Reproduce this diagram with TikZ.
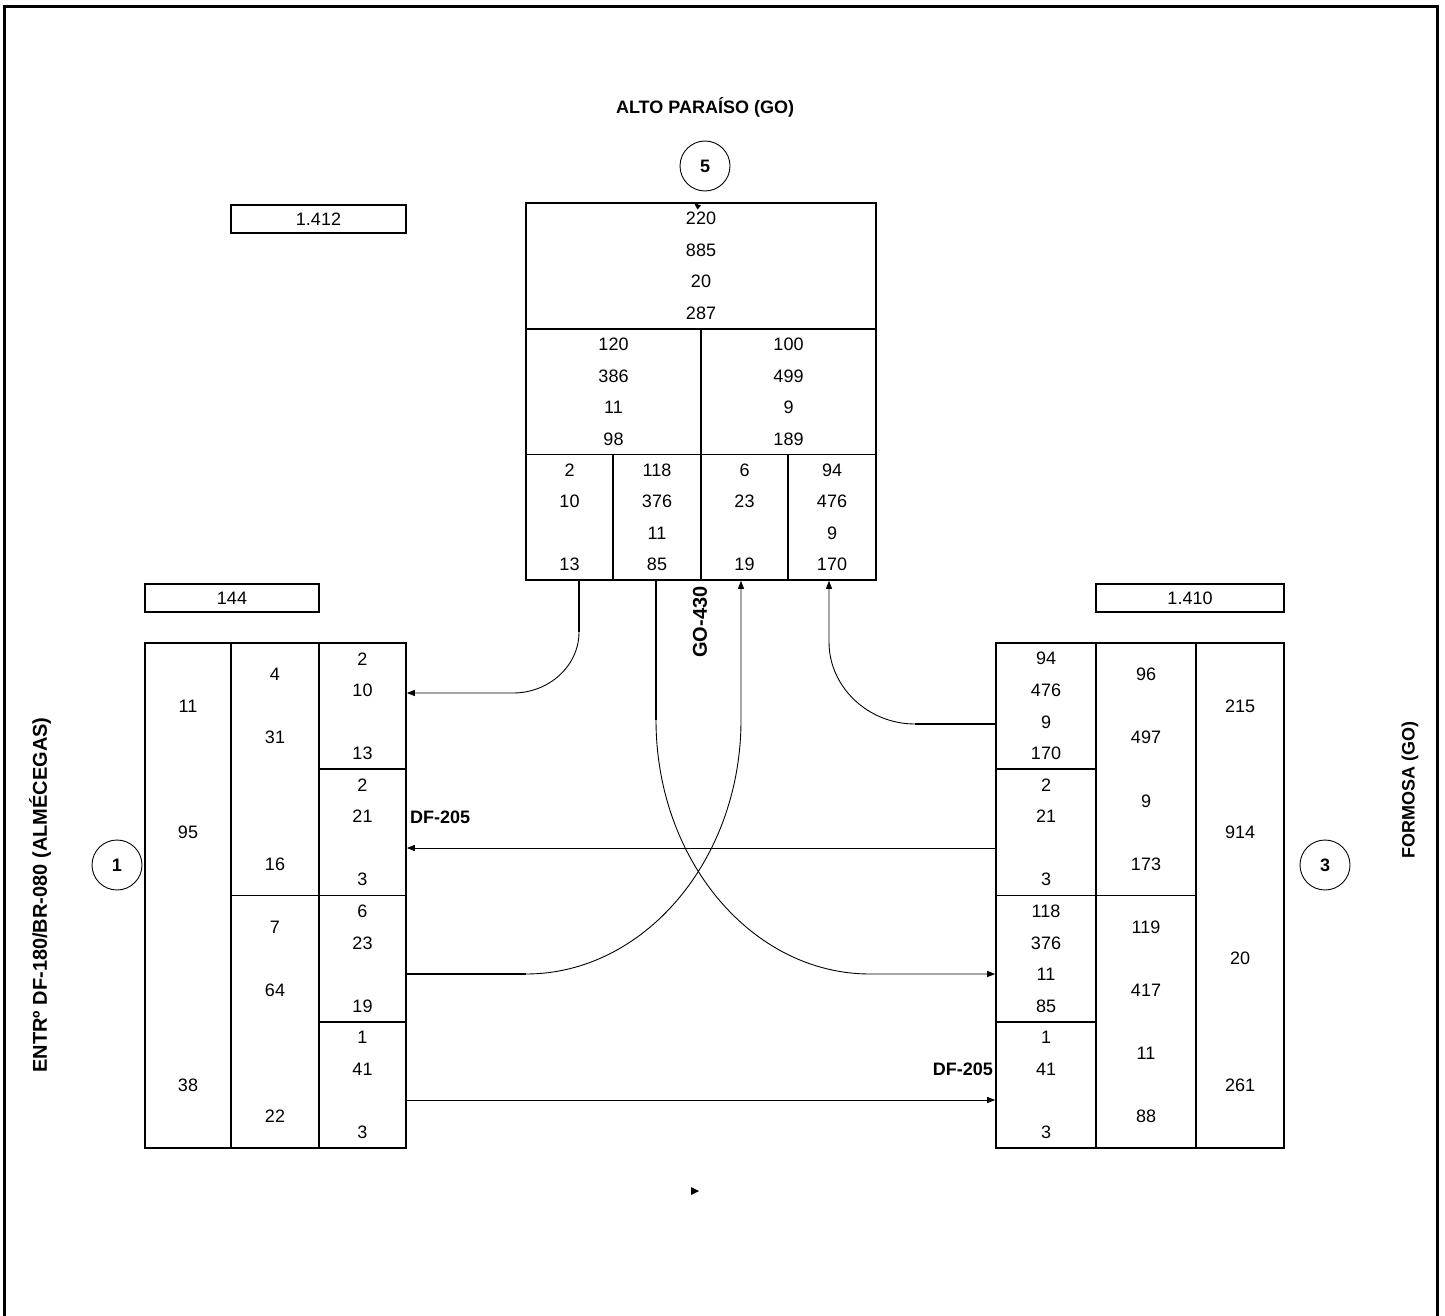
\documentclass[tikz,border=0pt]{standalone}
\usepackage{fontspec}
\setmainfont{Liberation Sans}
\usetikzlibrary{arrows.meta}
\newcommand{\mkcell}[5]{\node[cell, minimum width={(#4)-(#2)}, minimum height={(#5)-(#3)}] (#1) at ({((#2)+(#4))/2},{((#3)+(#5))/2}) {};}
\newcommand{\mknums}[5]{\foreach \i/\t in {#5}{\node[num] (#1-\i) at (#2,{(#3)+(\i+0.5)*(#4)/4}) {\t};}}
\begin{document}
\begin{tikzpicture}[x=1pt,y=-1pt,
  num/.style={font=\fontsize{18}{20}\selectfont, inner sep=0pt},
  lbl/.style={font=\fontsize{18}{20}\selectfont\bfseries, inner sep=0pt},
  biglbl/.style={font=\fontsize{20}{22}\selectfont\bfseries, inner sep=0pt},
  cell/.style={draw, line width=1.6pt, inner sep=0pt, rectangle},
  circ/.style={draw, circle, line width=0.9pt, minimum size=50pt, inner sep=0pt, font=\fontsize{18}{20}\selectfont\bfseries},
  frameline/.style={line width=3pt},
  thickseg/.style={line width=1.6pt},
  thinseg/.style={line width=0.9pt},
  tip/.style={-{Triangle[length=8pt,width=6pt]}},
]
\useasboundingbox (0,0) rectangle (1445,1316);
\fill[white] (0,0) rectangle (1445,1316);
\draw[frameline] (4.5,1316) -- (4.5,7) -- (1437.5,7) -- (1437.5,1316);

% titles and labels
\node[lbl] (title) at (705,107) {ALTO PARAÍSO (GO)};
\node[biglbl, rotate=90] (west) at (40,895) {ENTRº DF-180/BR-080 (ALMÉCEGAS)};
\node[lbl, rotate=90] (east) at (1410,790) {FORMOSA (GO)};
\node[biglbl, rotate=90] (go430) at (700,622) {GO-430};
\node[lbl, anchor=west] (df1) at (410,817) {DF-205};
\node[lbl, anchor=east] (df2) at (993,1069) {DF-205};

% circles
\node[circ] (n5) at (705,166) {5};
\node[circ] (n1) at (117,865) {1};
\node[circ] (n3) at (1325,865) {3};

% total boxes
\mkcell{tot5}{231}{205}{406}{233}
\node[num] (tot5t) at (tot5) {1.412};
\mkcell{tot1}{145}{584}{319}{612}
\node[num] (tot1t) at (tot1) {144};
\mkcell{tot3}{1096}{584}{1284}{612}
\node[num] (tot3t) at (tot3) {1.410};

% top box
\mkcell{t0}{526}{203}{876}{329}
\mkcell{t1}{526}{329}{701}{454.5}
\mkcell{t2}{701}{329}{876}{454.5}
\mkcell{t3a}{526}{454.5}{613}{580}
\mkcell{t3b}{613}{454.5}{701}{580}
\mkcell{t3c}{701}{454.5}{788}{580}
\mkcell{t3d}{788}{454.5}{876}{580}
\mknums{t0n}{701}{203}{126}{0/220,1/885,2/20,3/287}
\mknums{t1n}{613.5}{329}{125.5}{0/120,1/386,2/11,3/98}
\mknums{t2n}{788.5}{329}{125.5}{0/100,1/499,2/9,3/189}
\mknums{t3an}{569.5}{454.5}{125.5}{0/2,1/10,3/13}
\mknums{t3bn}{657}{454.5}{125.5}{0/118,1/376,2/11,3/85}
\mknums{t3cn}{744.5}{454.5}{125.5}{0/6,1/23,3/19}
\mknums{t3dn}{832}{454.5}{125.5}{0/94,1/476,2/9,3/170}

% left box
\mkcell{l1}{145}{643}{231}{1148}
\mkcell{l2a}{231}{643}{319}{895.5}
\mkcell{l2b}{231}{895.5}{319}{1148}
\mkcell{l3a}{319}{643}{406}{769.25}
\mkcell{l3b}{319}{769.25}{406}{895.5}
\mkcell{l3c}{319}{895.5}{406}{1021.75}
\mkcell{l3d}{319}{1021.75}{406}{1148}
\mknums{l1n}{188}{643}{505}{0/11,1/95,3/38}
\mknums{l2an}{275}{643}{252.5}{0/4,1/31,3/16}
\mknums{l2bn}{275}{895.5}{252.5}{0/7,1/64,3/22}
\mknums{l3an}{362.5}{643}{126.25}{0/2,1/10,3/13}
\mknums{l3bn}{362.5}{769.25}{126.25}{0/2,1/21,3/3}
\mknums{l3cn}{362.5}{895.5}{126.25}{0/6,1/23,3/19}
\mknums{l3dn}{362.5}{1021.75}{126.25}{0/1,1/41,3/3}

% right box
\mkcell{r1a}{996}{643}{1096}{769.25}
\mkcell{r1b}{996}{769.25}{1096}{895.5}
\mkcell{r1c}{996}{895.5}{1096}{1021.75}
\mkcell{r1d}{996}{1021.75}{1096}{1148}
\mkcell{r2a}{1096}{643}{1196}{895.5}
\mkcell{r2b}{1096}{895.5}{1196}{1148}
\mkcell{r3}{1196}{643}{1284}{1148}
\mknums{r1an}{1046}{643}{126.25}{0/94,1/476,2/9,3/170}
\mknums{r1bn}{1046}{769.25}{126.25}{0/2,1/21,3/3}
\mknums{r1cn}{1046}{895.5}{126.25}{0/118,1/376,2/11,3/85}
\mknums{r1dn}{1046}{1021.75}{126.25}{0/1,1/41,3/3}
\mknums{r2an}{1146}{643}{252.5}{0/96,1/497,2/9,3/173}
\mknums{r2bn}{1146}{895.5}{252.5}{0/119,1/417,2/11,3/88}
\mknums{r3n}{1240}{643}{505}{0/215,1/914,2/20,3/261}

% connector points
\coordinate (a1s) at (t3a.south -| 579,0);
\coordinate (a1m) at (579,632);
\coordinate (a1c) at (513,693);
\coordinate (a1e) at (l3a.east |- 0,693);

\coordinate (a2s) at (r1a.west |- 0,724);
\coordinate (a2m) at (915,724);
\coordinate (a2c) at (829,642);
\coordinate (a2e) at (t3d.south -| 829,0);

\coordinate (a3s) at (r1b.west |- 0,848);
\coordinate (a3e) at (l3b.east |- 0,848);

\coordinate (a4s) at (l3c.east |- 0,974);
\coordinate (a4m) at (526,974);
\coordinate (a4c) at (741,720);
\coordinate (a4e) at (t3c.south -| 741,0);

\coordinate (a5s) at (t3b.south -| 656,0);
\coordinate (a5m) at (656,720);
\coordinate (a5c) at (870,974);
\coordinate (a5e) at (r1c.west |- 0,974);

\coordinate (a6s) at (l3d.east |- 0,1100);
\coordinate (a6e) at (r1d.west |- 0,1100);

% connectors
\draw[thickseg] (a1s) -- (a1m);
\draw[thinseg, tip] (a1m) .. controls (579,666) and (549,693) .. (a1c) -- (a1e);

\draw[thickseg] (a2s) -- (a2m);
\draw[thinseg, tip] (a2m) .. controls (868,724) and (829,687) .. (a2c) -- (a2e);

\draw[thinseg, tip] (a3s) -- (a3e);

\draw[thickseg] (a4s) -- (a4m);
\draw[thinseg, tip] (a4m) .. controls (644,974) and (741,860) .. (a4c) -- (a4e);

\draw[thickseg] (a5s) -- (a5m);
\draw[thinseg, tip] (a5m) .. controls (656,860) and (752,974) .. (a5c) -- (a5e);

\draw[thinseg, tip] (a6s) -- (a6e);

% stray arrow tips
\coordinate (s1) at (694,203);
\fill (s1) -- (701,205.5) -- (697.5,209.5) -- cycle;
\coordinate (s2) at (699,1191);
\fill (s2) -- (691,1187) -- (691,1195) -- cycle;
\end{tikzpicture}
\end{document}
